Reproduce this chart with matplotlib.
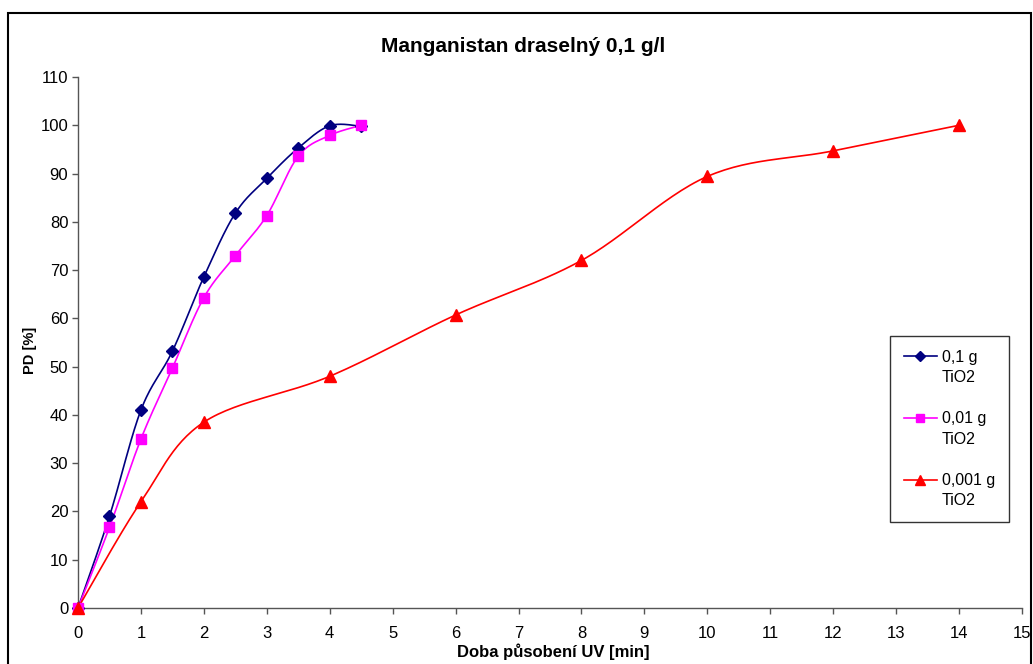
import numpy as np
import matplotlib
matplotlib.use("Agg")
import matplotlib.pyplot as plt
from matplotlib.lines import Line2D
from matplotlib.patches import Rectangle
from matplotlib.legend_handler import HandlerLine2D

plt.rcParams['font.family'] = ['Liberation Sans', 'DejaVu Sans']

title = "Manganistan draselný 0,1 g/l"
xlabel = "Doba působení UV [min]"
ylabel = "PD [%]"

# 0,1 g TiO2
t1 = [0, 0.5, 1, 1.5, 2, 2.5, 3, 3.5, 4, 4.5]
pd1 = [0, 19, 41, 53.2, 68.6, 81.8, 89, 95.3, 99.9, 99.8]
# 0,01 g TiO2
t2 = [0, 0.5, 1, 1.5, 2, 2.5, 3, 3.5, 4, 4.5]
pd2 = [0, 16.7, 35, 49.7, 64.3, 73, 81.3, 93.6, 97.9, 100]
# 0,001 g TiO2
t3 = [0, 1, 2, 4, 6, 8, 10, 12, 14]
pd3 = [0, 22, 38.5, 48, 60.7, 72, 89.4, 94.7, 100]

labels = ["0,1 g\nTiO2", "0,01 g\nTiO2", "0,001 g\nTiO2"]
colors = ["#000080", "#FF00FF", "#FF0000"]
markers = ["D", "s", "^"]
msizes = [6, 7, 8]

xticks = list(range(0, 16))
yticks = list(range(0, 111, 10))


def smooth(x, y, n=30):
    """Bezier smoothing through the points (Catmull-Rom style control points)."""
    x = np.asarray(x, float)
    y = np.asarray(y, float)
    P = np.column_stack([x, y])
    Pe = np.vstack([P[0], P, P[-1]])
    out = []
    s = np.linspace(0, 1, n)
    for i in range(len(P) - 1):
        p0, p1, p2, p3 = Pe[i], Pe[i + 1], Pe[i + 2], Pe[i + 3]
        c1 = p1 + (p2 - p0) / 6.0
        c2 = p2 - (p3 - p1) / 6.0
        seg = ((1 - s) ** 3)[:, None] * p1 + (3 * (1 - s) ** 2 * s)[:, None] * c1 \
            + (3 * (1 - s) * s ** 2)[:, None] * c2 + (s ** 3)[:, None] * p2
        out.append(seg if i == 0 else seg[1:])
    out = np.vstack(out)
    return out[:, 0], out[:, 1]


class FirstLineHandler(HandlerLine2D):
    """Line handle placed level with the first line of a two-line label."""

    def create_artists(self, legend, orig_handle, xdescent, ydescent,
                       width, height, fontsize, trans):
        artists = super().create_artists(legend, orig_handle, xdescent, ydescent,
                                         width, height, fontsize, trans)
        shift = 0.72 * fontsize
        for a in artists:
            a.set_ydata(np.asarray(a.get_ydata()) + shift)
        return artists


fig = plt.figure(figsize=(10.33, 6.64), dpi=100)
fig.patches.append(Rectangle((8 / 1033, -0.01), (1031 - 8) / 1033, 1 - 13 / 664 + 0.01,
                             transform=fig.transFigure, fill=False,
                             edgecolor="black", linewidth=1.5, zorder=0))

ax = fig.add_axes([78 / 1033, 1 - 608 / 664, (1022 - 78) / 1033, (608 - 77) / 664])

for (xs, ys), c, m, ms in zip([(t1, pd1), (t2, pd2), (t3, pd3)], colors, markers, msizes):
    sx, sy = smooth(xs, ys)
    ax.plot(sx, sy, color=c, linewidth=1.2, zorder=2, clip_on=False)
    ax.plot(xs, ys, linestyle="none", marker=m, markersize=ms, color=c,
            markeredgecolor=c, zorder=3, clip_on=False)

ax.set_xlim(0, 15)
ax.set_ylim(0, 110)
ax.set_xticks(xticks)
ax.set_yticks(yticks)
ax.tick_params(direction="out", length=4, width=1, color="#555555",
               labelsize=12)
ax.tick_params(axis="x", pad=9)
ax.tick_params(axis="y", pad=3)
for side in ["top", "right"]:
    ax.spines[side].set_visible(False)
for side in ["left", "bottom"]:
    ax.spines[side].set_color("#555555")
    ax.spines[side].set_linewidth(1)

fig.text(523 / 1033, 1 - 47 / 664, title, ha="center", va="center",
         fontsize=15, fontweight="bold")
fig.text(553 / 1033, 1 - 652 / 664, xlabel, ha="center", va="center",
         fontsize=12, fontweight="bold")
fig.text(30 / 1033, 1 - 350 / 664, ylabel, ha="center", va="center",
         fontsize=10.5, fontweight="bold", rotation=90)

handles = [Line2D([0], [0], color=c, marker=m, markersize=ms - 1, linewidth=1.2)
           for c, m, ms in zip(colors, markers, msizes)]
leg = fig.legend(handles, labels, loc="upper left",
                 bbox_to_anchor=(890 / 1033, 1 - 336 / 664),
                 borderaxespad=0,
                 frameon=True, fancybox=False, edgecolor="black",
                 fontsize=11.5, labelspacing=1.65, handlelength=2.1,
                 borderpad=0.85, handletextpad=0.3,
                 handler_map={Line2D: FirstLineHandler()})
leg.get_frame().set_linewidth(1)
for t in leg.get_texts():
    t.set_linespacing(1.45)

fig.savefig("out.png", dpi=100)
